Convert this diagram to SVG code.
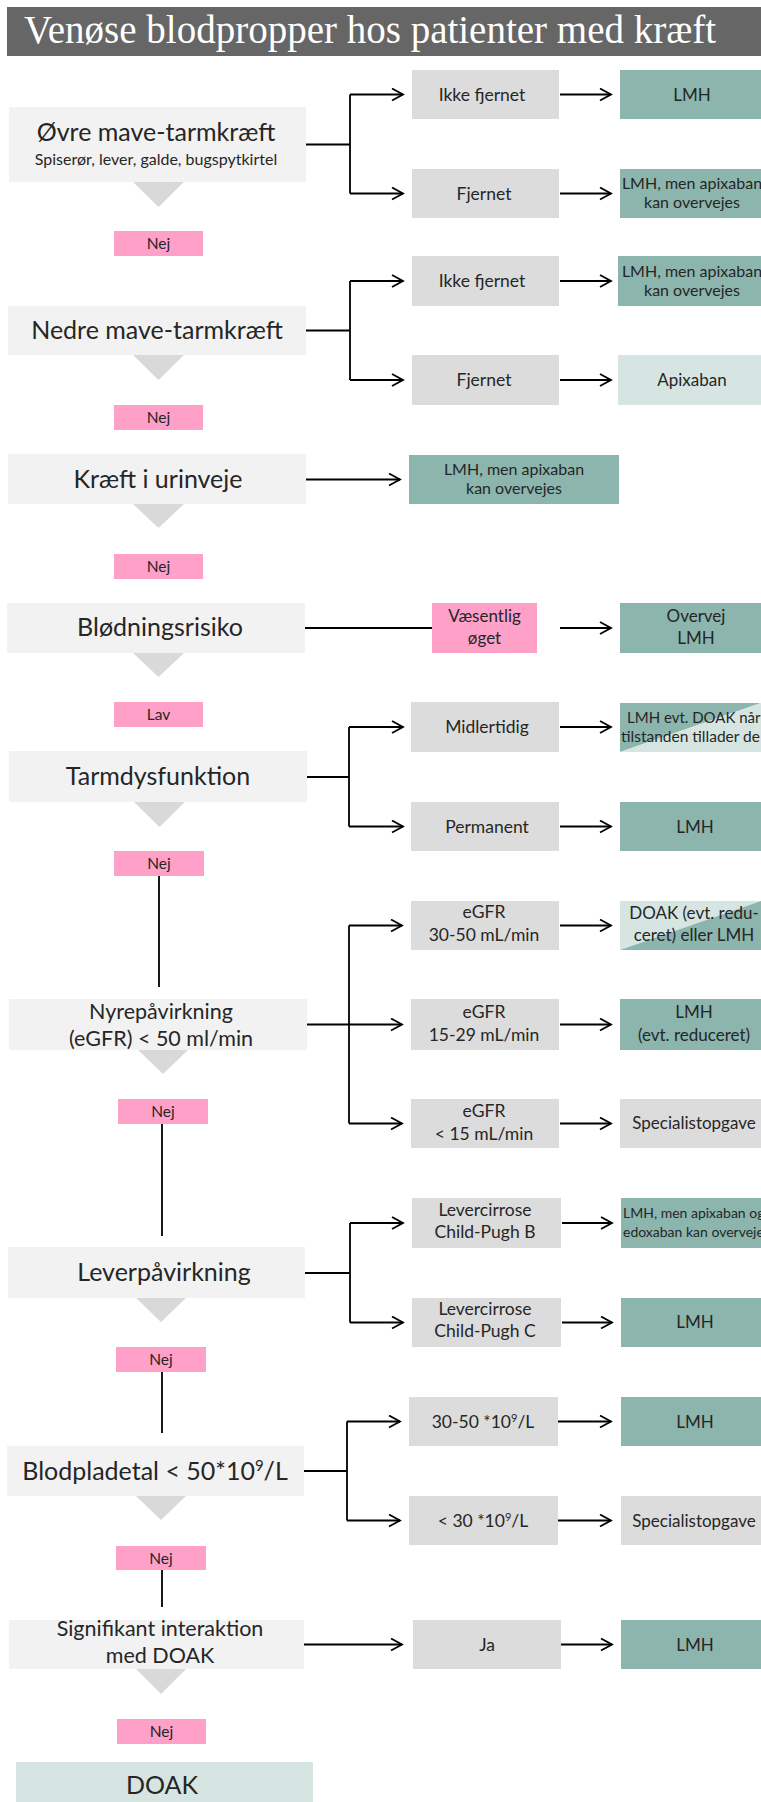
<svg xmlns="http://www.w3.org/2000/svg" width="761" height="1802" viewBox="0 0 761 1802">
<style>
.main{fill:#f2f2f2}
.opt{fill:#dcdcdc}
.pink{fill:#ffa0c8}
.dark{fill:#8bb5ad}
.light{fill:#d6e5e1}
.tri{fill:#d9d9d9}
.t{font-family:Lato,"Liberation Sans",sans-serif;fill:#262626;text-anchor:middle}
.st{text-anchor:start}
.h{font-size:25px}
.m{font-size:21.5px}
.sub{font-size:16px}
.o{font-size:17.5px}
.r{font-size:17px}
.rs{font-size:16px}
.n{font-size:15.5px}
.conn{stroke:#000;stroke-width:1.8;fill:none}
.arr{marker-end:url(#ah)}
.title{font-family:"Liberation Serif",serif;font-size:39px;fill:#fff;text-anchor:middle}
</style>
<defs>
<marker id="ah" markerWidth="14" markerHeight="14" refX="12" refY="7" orient="auto" markerUnits="userSpaceOnUse">
<path d="M1,1 L12,7 L1,13" fill="none" stroke="#000" stroke-width="1.8"/>
</marker>
</defs>
<rect width="761" height="1802" fill="#fff"/>
<g id="title">
<rect x="7" y="7" width="754" height="49" fill="#666666"/>
<text class="title" x="370" y="43">Venøse blodpropper hos patienter med kræft</text>
</g>

<g id="connectors">
<path class="conn" d="M306,144.5 H350 M350,94.5 V193.5"/>
<path class="conn arr" d="M350,94.5 H403"/>
<path class="conn arr" d="M350,193.5 H403"/>
<path class="conn arr" d="M560,94.5 H611"/>
<path class="conn arr" d="M560,193.5 H611"/>

<path class="conn" d="M306,330.5 H350 M350,281 V380"/>
<path class="conn arr" d="M350,281 H403"/>
<path class="conn arr" d="M350,380 H403"/>
<path class="conn arr" d="M560,281 H611"/>
<path class="conn arr" d="M560,380 H611"/>

<path class="conn arr" d="M306,479.5 H400"/>

<path class="conn" d="M305,628 H432"/>
<path class="conn arr" d="M560,628 H611"/>

<path class="conn" d="M307,777 H349 M349,727 V826.5"/>
<path class="conn arr" d="M349,727 H403"/>
<path class="conn arr" d="M349,826.5 H403"/>
<path class="conn arr" d="M560,727 H611"/>
<path class="conn arr" d="M560,826.5 H611"/>

<path class="conn" d="M159,876 V987"/>
<path class="conn arr" d="M307,1024.5 H402"/>
<path class="conn" d="M349,925.5 V1123.5"/>
<path class="conn arr" d="M349,925.5 H402"/>
<path class="conn arr" d="M349,1123.5 H402"/>
<path class="conn arr" d="M560,925.5 H611"/>
<path class="conn arr" d="M560,1024.5 H611"/>
<path class="conn arr" d="M560,1123.5 H611"/>

<path class="conn" d="M162,1124 V1236"/>
<path class="conn" d="M305,1273 H350 M350,1223 V1322.5"/>
<path class="conn arr" d="M350,1223 H403"/>
<path class="conn arr" d="M350,1322.5 H403"/>
<path class="conn arr" d="M562,1223 H612"/>
<path class="conn arr" d="M562,1322.5 H612"/>

<path class="conn" d="M162,1372 V1433"/>
<path class="conn" d="M304,1471 H347 M347,1421.5 V1520.5"/>
<path class="conn arr" d="M347,1421.5 H400"/>
<path class="conn arr" d="M347,1520.5 H400"/>
<path class="conn arr" d="M558,1421.5 H611"/>
<path class="conn arr" d="M558,1520.5 H611"/>

<path class="conn" d="M162,1570 V1607"/>
<path class="conn arr" d="M304,1644.5 H402"/>
<path class="conn arr" d="M561,1644.5 H612"/>
</g>

<!-- Row 1 -->
<g id="n-ovre">
<rect class="main" x="9" y="107" width="297" height="75"/>
<polygon class="tri" points="133,182 184,182 158.5,207"/>
<text class="t h" x="156" y="141">Øvre mave-tarmkræft</text>
<text class="t sub" x="156" y="165">Spiserør, lever, galde, bugspytkirtel</text>
</g>
<g id="n-ovre-ikke"><rect class="opt" x="412" y="70" width="147" height="49"/><text class="t o" x="482" y="100.5">Ikke fjernet</text></g>
<g id="n-ovre-fjernet"><rect class="opt" x="412" y="169" width="147" height="49"/><text class="t o" x="484" y="199.5">Fjernet</text></g>
<g id="r-ovre-ikke"><rect class="dark" x="620" y="70" width="150" height="49"/><text class="t r" x="692" y="100.5">LMH</text></g>
<g id="r-ovre-fjernet"><rect class="dark" x="620" y="169" width="150" height="49"/><text class="t rs" x="692" y="189">LMH, men apixaban</text><text class="t rs" x="692" y="208">kan overvejes</text></g>
<g id="nej1"><rect class="pink" x="114" y="231" width="89" height="25"/><text class="t n" x="158.5" y="249">Nej</text></g>

<!-- Row 2 -->
<g id="n-nedre">
<rect class="main" x="8" y="306" width="298" height="49"/>
<polygon class="tri" points="133,355 184,355 158.5,380"/>
<text class="t h" x="157" y="339">Nedre mave-tarmkræft</text>
</g>
<g id="n-nedre-ikke"><rect class="opt" x="412" y="256" width="147" height="50"/><text class="t o" x="482" y="287">Ikke fjernet</text></g>
<g id="n-nedre-fjernet"><rect class="opt" x="412" y="355" width="147" height="50"/><text class="t o" x="484" y="386">Fjernet</text></g>
<g id="r-nedre-ikke"><rect class="dark" x="618" y="256" width="152" height="50"/><text class="t rs" x="692" y="276.5">LMH, men apixaban</text><text class="t rs" x="692" y="295.5">kan overvejes</text></g>
<g id="r-nedre-fjernet"><rect class="light" x="618" y="355" width="152" height="50"/><text class="t r" x="692" y="386">Apixaban</text></g>
<g id="nej2"><rect class="pink" x="114" y="405" width="89" height="25"/><text class="t n" x="158.5" y="423">Nej</text></g>

<!-- Row 3 -->
<g id="n-urin">
<rect class="main" x="8" y="454" width="298" height="50"/>
<polygon class="tri" points="133,504 184,504 158.5,528"/>
<text class="t h" x="158" y="488">Kræft i urinveje</text>
</g>
<g id="r-urin"><rect class="dark" x="409" y="455" width="210" height="49"/><text class="t rs" x="514" y="474.5">LMH, men apixaban</text><text class="t rs" x="514" y="493.5">kan overvejes</text></g>
<g id="nej3"><rect class="pink" x="114" y="554" width="89" height="25"/><text class="t n" x="158.5" y="572">Nej</text></g>

<!-- Row 4 -->
<g id="n-bloed">
<rect class="main" x="7" y="603" width="298" height="50"/>
<polygon class="tri" points="133,653 184,653 158.5,677"/>
<text class="t h" x="160" y="636">Blødningsrisiko</text>
</g>
<g id="n-bloed-ja"><rect class="pink" x="432" y="603" width="105" height="50"/><text class="t r" x="484.5" y="622">Væsentlig</text><text class="t r" x="484.5" y="644">øget</text></g>
<g id="r-bloed"><rect class="dark" x="620" y="603" width="150" height="50"/><text class="t r" x="696" y="622">Overvej</text><text class="t r" x="696" y="644">LMH</text></g>
<g id="lav"><rect class="pink" x="114" y="702" width="89" height="25"/><text class="t n" x="158.5" y="720">Lav</text></g>

<!-- Row 5 -->
<g id="n-tarm">
<rect class="main" x="9" y="751" width="298" height="51"/>
<polygon class="tri" points="134,802 185,802 159.5,827"/>
<text class="t h" x="158" y="785">Tarmdysfunktion</text>
</g>
<g id="n-tarm-midl"><rect class="opt" x="411" y="702" width="148" height="50"/><text class="t o" x="487" y="733">Midlertidig</text></g>
<g id="n-tarm-perm"><rect class="opt" x="411" y="802" width="148" height="49"/><text class="t o" x="487" y="832.5">Permanent</text></g>
<g id="r-tarm-midl">
<polygon class="dark" points="620,703 761,703 620,752"/>
<polygon class="light" points="761,703 761,752 620,752"/>
<text class="t st" x="627" y="722.5" style="font-size:15px">LMH evt. DOAK når</text><text class="t st" x="621" y="741.5" style="font-size:15.5px">tilstanden tillader de</text>
</g>
<g id="r-tarm-perm"><rect class="dark" x="620" y="802" width="150" height="49"/><text class="t r" x="695" y="832.5">LMH</text></g>
<g id="nej4"><rect class="pink" x="114" y="851" width="90" height="25"/><text class="t n" x="159" y="869">Nej</text></g>

<!-- Row 6 -->
<g id="n-nyre">
<rect class="main" x="9" y="999" width="298" height="51"/>
<polygon class="tri" points="138,1050 188,1050 163,1074"/>
<text class="t m" x="161" y="1019">Nyrepåvirkning</text>
<text class="t m" x="161" y="1046">(eGFR) &lt; 50 ml/min</text>
</g>
<g id="n-nyre-a"><rect class="opt" x="411" y="901" width="148" height="49"/><text class="t o" x="484" y="918">eGFR</text><text class="t o" x="484" y="941">30-50 mL/min</text></g>
<g id="n-nyre-b"><rect class="opt" x="411" y="999" width="148" height="51"/><text class="t o" x="484" y="1018">eGFR</text><text class="t o" x="484" y="1041">15-29 mL/min</text></g>
<g id="n-nyre-c"><rect class="opt" x="411" y="1099" width="148" height="49"/><text class="t o" x="484" y="1117">eGFR</text><text class="t o" x="484" y="1140">&lt; 15 mL/min</text></g>
<g id="r-nyre-a">
<polygon class="light" points="620,901 761,901 620,950"/>
<polygon class="dark" points="761,901 761,950 620,950"/>
<text class="t r" x="694" y="919">DOAK (evt. redu-</text><text class="t r" x="694" y="941">ceret) eller LMH</text>
</g>
<g id="r-nyre-b"><rect class="dark" x="620" y="999" width="150" height="51"/><text class="t r" x="694" y="1018">LMH</text><text class="t r" x="694" y="1041">(evt. reduceret)</text></g>
<g id="r-nyre-c"><rect class="opt" x="620" y="1099" width="150" height="49"/><text class="t r" x="694" y="1129">Specialistopgave</text></g>
<g id="nej5"><rect class="pink" x="118" y="1099" width="90" height="25"/><text class="t n" x="163" y="1117">Nej</text></g>

<!-- Row 7 -->
<g id="n-lever">
<rect class="main" x="8" y="1247" width="297" height="51"/>
<polygon class="tri" points="136,1298 186,1298 161,1322"/>
<text class="t h" x="164" y="1281">Leverpåvirkning</text>
</g>
<g id="n-lever-b"><rect class="opt" x="412" y="1198" width="149" height="50"/><text class="t o" x="485" y="1216">Levercirrose</text><text class="t o" x="485" y="1238">Child-Pugh B</text></g>
<g id="n-lever-c"><rect class="opt" x="412" y="1298" width="149" height="49"/><text class="t o" x="485" y="1315">Levercirrose</text><text class="t o" x="485" y="1337">Child-Pugh C</text></g>
<g id="r-lever-b"><rect class="dark" x="621" y="1198" width="150" height="50"/><text class="t st" x="623" y="1218" style="font-size:14px">LMH, men apixaban og</text><text class="t st" x="623" y="1237" style="font-size:14px">edoxaban kan overveje</text></g>
<g id="r-lever-c"><rect class="dark" x="621" y="1298" width="150" height="49"/><text class="t r" x="695" y="1328">LMH</text></g>
<g id="nej6"><rect class="pink" x="116" y="1347" width="90" height="25"/><text class="t n" x="161" y="1365">Nej</text></g>

<!-- Row 8 -->
<g id="n-blodplade">
<rect class="main" x="7" y="1446" width="297" height="50"/>
<polygon class="tri" points="136,1496 186,1496 161,1520"/>
<text class="t h" x="155" y="1480">Blodpladetal &lt; 50*10<tspan dy="-9" font-size="15px">9</tspan><tspan dy="9">/L</tspan></text>
</g>
<g id="n-blodplade-a"><rect class="opt" x="409" y="1397" width="149" height="49"/><text class="t o" x="483" y="1427.5">30-50 *10<tspan dy="-6" font-size="11px">9</tspan><tspan dy="6">/L</tspan></text></g>
<g id="n-blodplade-b"><rect class="opt" x="409" y="1496" width="149" height="49"/><text class="t o" x="483" y="1526.5">&lt; 30 *10<tspan dy="-6" font-size="11px">9</tspan><tspan dy="6">/L</tspan></text></g>
<g id="r-blodplade-a"><rect class="dark" x="621" y="1397" width="150" height="49"/><text class="t r" x="695" y="1427.5">LMH</text></g>
<g id="r-blodplade-b"><rect class="opt" x="621" y="1496" width="150" height="49"/><text class="t r" x="694" y="1526.5">Specialistopgave</text></g>
<g id="nej7"><rect class="pink" x="116" y="1546" width="90" height="24"/><text class="t n" x="161" y="1563.5">Nej</text></g>

<!-- Row 9 -->
<g id="n-interaktion">
<rect class="main" x="9" y="1620" width="295" height="49"/>
<polygon class="tri" points="136,1669 186,1669 161,1694"/>
<text class="t m" x="160" y="1636">Signifikant interaktion</text>
<text class="t m" x="160" y="1663">med DOAK</text>
</g>
<g id="n-interaktion-ja"><rect class="opt" x="413" y="1620" width="148" height="49"/><text class="t o" x="487" y="1650.5">Ja</text></g>
<g id="r-interaktion"><rect class="dark" x="621" y="1620" width="150" height="49"/><text class="t r" x="695" y="1650.5">LMH</text></g>
<g id="nej8"><rect class="pink" x="117" y="1719" width="89" height="25"/><text class="t n" x="161.5" y="1737">Nej</text></g>

<g id="n-doak">
<rect class="light" x="16" y="1762" width="297" height="45"/>
<text class="t h" x="162" y="1794">DOAK</text>
</g>
</svg>
